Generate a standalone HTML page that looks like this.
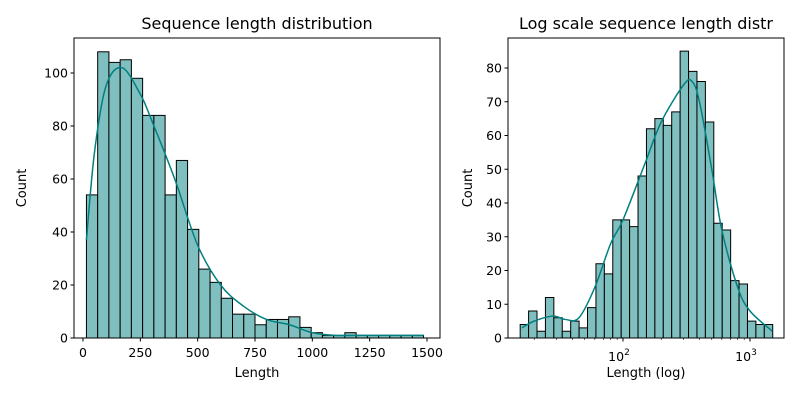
<!DOCTYPE html>
<html><head><meta charset="utf-8"><style>
body{margin:0;background:#fff;font-family:"Liberation Sans","DejaVu Sans",sans-serif}
text{font-family:"DejaVu Sans","Liberation Sans",sans-serif;fill:#000}
</style></head><body>
<svg id="s" width="800" height="400" xmlns="http://www.w3.org/2000/svg"></svg>
<script>
const leftCounts=[54,108,104,105,98,84,84,54,67,41,26,21,15,9,9,5,7,7,8,4,2,1,1,2,1,1,1,1,1,1];
const leftMin=15, leftMax=1485;
const leftKdeX=[15,50,100,170,250,300,400,500,600,700,800,900,1000,1100,1200,1300,1485];
const leftKdeY=[37,70,95,102,92,82,60,35,20,12,7,5,2,1,1,1,1];
const leftXTicks=[0,250,500,750,1000,1250,1500];
const leftYTicks=[0,20,40,60,80,100];
const rightCounts=[4,8,2,12,6,2,5,3,9,22,19,35,35,33,48,62,65,63,67,85,79,76,64,34,32,17,16,5,4,4];
const rightMin=15.5, rightMax=1510;
const rightKdeX=[16,20,28,35,45,60,80,100,150,200,300,350,400,500,600,800,1000,1500];
const rightKdeY=[3,5,6.5,5.5,6,15,28,35,52,64,75,76,70,50,32,15,8,2];
const rightYTicks=[0,10,20,30,40,50,60,70,80];
const NS="http://www.w3.org/2000/svg", svg=document.getElementById('s');
function el(t,a,p){const e=document.createElementNS(NS,t);for(const k in a)e.setAttribute(k,a[k]);(p||svg).appendChild(e);return e;}
function smooth(pts){let d="M"+pts[0][0]+","+pts[0][1];for(let i=0;i<pts.length-1;i++){const p0=pts[Math.max(0,i-1)],p1=pts[i],p2=pts[i+1],p3=pts[Math.min(pts.length-1,i+2)];
d+=" C"+(p1[0]+(p2[0]-p0[0])/6)+","+(p1[1]+(p2[1]-p0[1])/6)+" "+(p2[0]-(p3[0]-p1[0])/6)+","+(p2[1]-(p3[1]-p1[1])/6)+" "+p2[0]+","+p2[1];}return d;}
function panel(o){
  const g=el('g',{});  
  const n=o.counts.length, bw=(o.x(o.max)-o.x(o.min))/n;
  o.counts.forEach((c,i)=>{const x0=o.x(o.min)+i*bw;const r=el('rect',{x:x0,y:o.y(c),width:bw,height:o.y(0)-o.y(c),fill:'#80bfbf',stroke:'#000','stroke-width':1},g);
     });
  const k=el('path',{d:smooth(o.kx.map((v,i)=>[o.x(v),o.y(o.ky[i])])),fill:'none',stroke:'#008080','stroke-width':1.5},g);
   
  const f=el('rect',{x:o.L,y:38,width:o.R-o.L,height:300,fill:'none',stroke:'#000','stroke-width':1},g);
   
  o.yt.forEach(v=>{const y=o.y(v);el('line',{x1:o.L-3.5,x2:o.L,y1:y,y2:y,stroke:'#000'},g);
    const t=el('text',{x:o.L-6,y:y+4.5,'font-size':12.5,'text-anchor':'end'},g);t.textContent=v;
     });
  const tt=el('text',{x:(o.L+o.R)/2,y:29,'font-size':16,'text-anchor':'middle'},g);tt.textContent=o.title;
   
  const xl=el('text',{x:(o.L+o.R)/2,y:377,'font-size':13,'text-anchor':'middle'},g);xl.textContent=o.xlabel;
   
  const yl=el('text',{x:0,y:0,'font-size':13,'text-anchor':'middle',transform:'translate('+o.ylx+',188) rotate(-90)'},g);yl.textContent='Count';
   
  return g;
}
const lx=v=>83+v*(427-83)/1500, ly=v=>338-v*2.65;
const gl=panel({name:'left-histogram',counts:leftCounts,min:leftMin,max:leftMax,x:lx,y:ly,kx:leftKdeX,ky:leftKdeY,L:74,R:440,yt:leftYTicks,title:'Sequence length distribution',xlabel:'Length',ylx:26});
leftXTicks.forEach(v=>{const x=lx(v);el('line',{x1:x,x2:x,y1:338,y2:341.5,stroke:'#000'},gl);
  const t=el('text',{x:x,y:357,'font-size':12.5,'text-anchor':'middle'},gl);t.textContent=v;
   });
const rx=v=>623+(Math.log10(v)-2)*127, ry=v=>338-v*3.375;
const gr=panel({name:'right-histogram',counts:rightCounts,min:rightMin,max:rightMax,x:rx,y:ry,kx:rightKdeX,ky:rightKdeY,L:508,R:784,yt:rightYTicks,title:'Log scale sequence length distr',xlabel:'Length (log)',ylx:472});
for(let d=10;d<=1000;d*=10)for(let m=1;m<10;m++){const v=d*m,x=rx(v);if(x<508||x>784)continue;
  el('line',{x1:x,x2:x,y1:338,y2:m==1?341.5:340,stroke:'#000','stroke-width':m==1?1:0.6},gr);
  if(m==1&&v>=100){const t=el('text',{x:x-4,y:361,'font-size':12.5,'text-anchor':'middle'},gr);t.textContent='10';
    const s=el('tspan',{dy:-6,'font-size':9},t);s.textContent=v==100?'2':'3';
     }}
</script>
</body></html>
